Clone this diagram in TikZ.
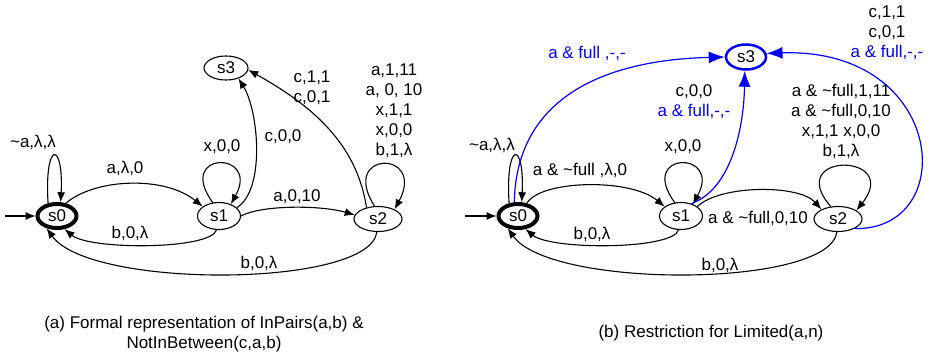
\documentclass[tikz,border=0pt]{standalone}
\usepackage{fontspec}
\setmainfont{Liberation Sans}
\usepackage{xcolor}
\usepackage{tikz}
\usetikzlibrary{arrows.meta, positioning, shapes.geometric, calc}
\definecolor{fsmBlue}{RGB}{0,0,255}

\begin{document}
\begin{tikzpicture}[
    x=1pt, y=-1pt,
    font=\fontsize{17}{20}\selectfont,
    st/.style      = {ellipse, draw, line width=1.1pt, inner sep=0pt,
                      minimum width=43pt, minimum height=27pt},
    initst/.style  = {st, line width=4pt, minimum width=39pt, minimum height=24pt},
    bst/.style     = {st, draw=fsmBlue, line width=2.5pt,
                      minimum width=40pt, minimum height=25pt},
    flow/.style    = {-{Latex[length=10pt,width=8pt]}, line width=1.1pt},
    bflow/.style   = {-{Latex[length=16pt,width=12pt]}, line width=1.2pt,
                      draw=fsmBlue},
    lbl/.style     = {inner sep=1pt, align=center},
    blbl/.style    = {lbl, text=fsmBlue}
]
\useasboundingbox (0,0) rectangle (935,353);

% (a) states
\node[initst] (s0) at (57,216) {s0};
\node[st] (s1) at (219,216) {s1};
\node[st, minimum width=48pt, minimum height=25pt] (s2) at (378,219) {s2};
\node[st, minimum width=44pt, minimum height=24pt] (s3) at (226,68) {s3};
\coordinate (in0) at (5,216);

% (a) transitions
\draw[flow] (in0) -- (s0);
\draw[flow] (s0.125) .. controls +(-4,-63) and +(3,-62) .. (s0.75);
\draw[flow] (s0.55) .. controls +(29,-25) and +(-38,-31) .. (s1.150);
\draw[flow] (s1.260) .. controls +(-6,20) and +(25,21) .. (s0.300);
\draw[flow] (s1.115) .. controls +(-38,-52) and +(30,-54) .. (s1.45);
\draw[flow] (s1.25) .. controls +(29,-18) and +(20,32) .. (s3.-40);
\draw[flow] (s1.east) .. controls +(20,-11) and +(-35,-10) .. (s2.170);
\draw[flow] (s2.135) .. controls +(-9,-58) and +(72,40) .. (s3.-5);
\draw[flow] (s2.105) .. controls +(-36,-56) and +(32,-60) .. (s2.30);
\draw[flow] (s2.265) .. controls +(-7,56) and +(43,61) .. (s0.230);

% (a) labels
\node[lbl] (l00) at (33,142) {\textasciitilde a,λ,λ};
\node[lbl] (l01) at (125,168) {a,λ,0};
\node[lbl] (l10) at (130,233) {b,0,λ};
\node[lbl] (l11) at (222,147) {x,0,0};
\node[lbl] (l13) at (283,137) {c,0,0};
\node[lbl] (l12) at (297,197) {a,0,10};
\node[lbl] (l23) at (312,88) {c,1,1\\c,0,1};
\node[lbl] (l22) at (394,111) {a,1,11\\a, 0, 10\\x,1,1\\x,0,0\\b,1,λ};
\node[lbl] (l20) at (259,263) {b,0,λ};

% (b) states
\node[initst] (r0) at (518,216) {s0};
\node[st] (r1) at (681,216) {s1};
\node[st, minimum width=48pt, minimum height=25pt] (r2) at (838,219) {s2};
\node[bst] (r3) at (746,57) {s3};
\coordinate (in1) at (465,216);

% (b) transitions
\draw[flow] (in1) -- (r0);
\draw[flow] (r0.125) .. controls +(-4,-63) and +(3,-62) .. (r0.75);
\draw[flow] (r0.55) .. controls +(13,-23) and +(-35,-29) .. (r1.150);
\draw[flow] (r1.260) .. controls +(-6,20) and +(25,21) .. (r0.300);
\draw[flow] (r1.115) .. controls +(-38,-52) and +(30,-54) .. (r1.45);
\draw[flow] (r1.30) .. controls +(23,-22) and +(-22,-25) .. (r2.150);
\draw[flow] (r2.120) .. controls +(-48,-55) and +(46,-58) .. (r2.25);
\draw[flow] (r2.265) .. controls +(-7,56) and +(43,61) .. (r0.230);

% (b) restriction edges into s3
\draw[bflow] (r0.105) .. controls +(2,-105) and +(-120,3) .. (r3.180);
\draw[bflow] (r1.50) .. controls +(39,-14) and +(-1,59) .. (r3.-95);
\draw[bflow] (r2.-30) .. controls +(106,2) and +(180,-6) .. (r3.10);

% (b) labels
\node[lbl] (m00) at (492,145) {\textasciitilde a,λ,λ};
\node[lbl] (m01) at (580,170) {a \& \textasciitilde full ,λ,0};
\node[lbl] (m10) at (592,234) {b,0,λ};
\node[lbl] (m11) at (683,147) {x,0,0};
\node[lbl] (m13) at (694,102) {c,0,0\\\textcolor{fsmBlue}{a \& full,-,-}};
\node[lbl] (m12) at (758,218) {a \& \textasciitilde full,0,10};
\node[lbl] (m22) at (841,121) {a \& \textasciitilde full,1,11\\a \& \textasciitilde full,0,10\\x,1,1 x,0,0\\b,1,λ};
\node[lbl] (m20) at (720,265) {b,0,λ};
\node[blbl] (m03) at (587,53) {a \& full ,-,-};
\node[lbl] (m23) at (887,33) {c,1,1\\c,0,1\\\textcolor{fsmBlue}{a \& full,-,-}};

% captions
\node[lbl] (capA) at (204,334) {(a) Formal representation of InPairs(a,b) \&\\NotInBetween(c,a,b)};
\node[lbl] (capB) at (711,333) {(b) Restriction for Limited(a,n)};

\end{tikzpicture}
\end{document}
